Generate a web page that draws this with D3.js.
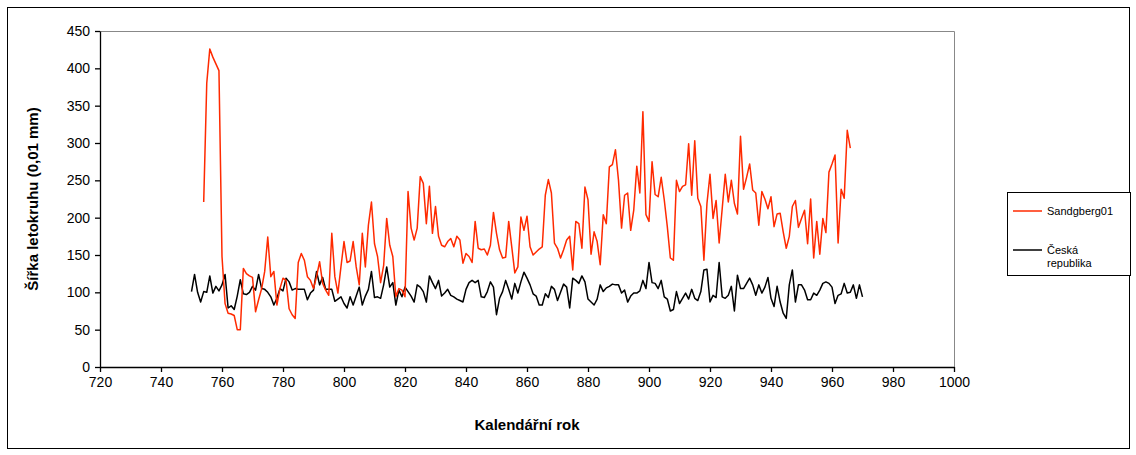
<!DOCTYPE html>
<html>
<head>
<meta charset="utf-8">
<script src="https://cdn.jsdelivr.net/npm/d3@7"></script>
<style>
  html, body { margin: 0; padding: 0; background: #fff; }
  svg { display: block; font-family: "Liberation Sans", Arial, sans-serif; }
</style>
</head>
<body>
<svg id="chart" width="1136" height="455"></svg>
<script>
// Tree-ring width series (0.01 mm), one value per calendar year.
const sandgbergStart = 754;
const sandgbergValues = [
  221, 380, 426, 415, 406, 397, 148, 85, 72, 71,
  69, 50, 50, 132, 125, 122, 120, 74, 90, 105,
  128, 174, 121, 128, 83, 105, 119, 116, 78, 70,
  65, 140, 152, 143, 121, 116, 105, 121, 141, 112,
  103, 96, 179, 121, 99, 134, 168, 140, 142, 168,
  134, 110, 179, 134, 190, 221, 165, 148, 113, 136,
  199, 163, 148, 94, 105, 103, 94, 235, 186, 170,
  186, 255, 246, 192, 242, 179, 215, 175, 163, 161,
  168, 172, 161, 175, 170, 139, 152, 148, 140, 195,
  159, 157, 158, 150, 163, 207, 179, 157, 146, 147,
  195, 161, 126, 134, 201, 183, 202, 161, 150, 154,
  158, 161, 230, 251, 233, 166, 159, 146, 157, 170,
  175, 130, 195, 192, 159, 241, 224, 151, 181, 168,
  137, 204, 192, 268, 271, 291, 250, 186, 230, 233,
  183, 210, 269, 233, 342, 204, 195, 275, 231, 228,
  254, 224, 188, 146, 143, 250, 235, 242, 244, 299,
  230, 303, 226, 215, 143, 219, 258, 199, 223, 166,
  212, 258, 221, 250, 219, 205, 309, 238, 254, 272,
  237, 233, 190, 235, 225, 212, 228, 188, 205, 206,
  181, 159, 175, 215, 223, 187, 199, 210, 165, 225,
  146, 195, 151, 199, 180, 261, 272, 284, 166, 238,
  226, 317, 293
];

const ceskaStart = 750;
const ceskaValues = [
  101, 124, 100, 87, 101, 100, 122, 99, 108, 102,
  110, 124, 79, 82, 77, 95, 117, 98, 97, 100,
  108, 103, 124, 105, 104, 100, 94, 83, 92, 105,
  102, 119, 114, 103, 105, 104, 104, 104, 90, 99,
  103, 128, 110, 120, 104, 104, 104, 88, 91, 94,
  85, 79, 94, 83, 95, 107, 83, 95, 104, 128,
  93, 94, 92, 110, 134, 107, 113, 83, 103, 94,
  107, 101, 95, 87, 110, 107, 101, 87, 122, 113,
  105, 116, 95, 99, 104, 96, 94, 91, 89, 87,
  104, 113, 116, 113, 116, 94, 93, 101, 114, 107,
  70, 92, 101, 116, 104, 91, 112, 99, 114, 127,
  119, 110, 98, 95, 83, 83, 98, 93, 108, 104,
  89, 100, 111, 107, 79, 119, 116, 112, 122, 114,
  91, 87, 83, 91, 110, 101, 106, 108, 111, 110,
  110, 99, 103, 87, 95, 99, 99, 102, 116, 105,
  140, 113, 112, 105, 116, 94, 91, 75, 77, 101,
  85, 92, 99, 91, 104, 92, 89, 101, 130, 131,
  87, 96, 93, 140, 94, 92, 96, 108, 75, 123,
  105, 105, 112, 119, 110, 96, 110, 99, 107, 120,
  92, 81, 108, 87, 72, 65, 110, 130, 87, 110,
  110, 103, 90, 90, 99, 96, 103, 112, 114, 112,
  107, 85, 96, 98, 112, 99, 100, 110, 92, 110,
  94
];

const yTicks = [0, 50, 100, 150, 200, 250, 300, 350, 400, 450];
const xTicks = [720, 740, 760, 780, 800, 820, 840, 860, 880, 900, 920, 940, 960, 980, 1000];

const seriesNames = ["Sandgberg01", "Česká republika"];
const legendLines = [["Sandgberg01"], ["Česká", "republika"]];
const seriesColors = ["#ff2a00", "#000000"];

const xTitle = "Kalendářní rok";
const yTitle = "Šířka letokruhu (0,01 mm)";

const toPoints = (start, values) => values.map((v, i) => ({ year: start + i, value: v }));
const series = [
  { name: seriesNames[0], color: seriesColors[0], points: toPoints(sandgbergStart, sandgbergValues) },
  { name: seriesNames[1], color: seriesColors[1], points: toPoints(ceskaStart, ceskaValues) }
];

const svg = d3.select("#chart");

// outer chart frame
svg.append("rect")
  .attr("x", 7.5).attr("y", 7.5)
  .attr("width", 1122).attr("height", 441)
  .attr("fill", "#fff").attr("stroke", "#000").attr("stroke-width", 1);

const plot = { left: 100, right: 954, top: 31, bottom: 367 };

const x = d3.scaleLinear().domain([720, 1000]).range([plot.left, plot.right]);
const y = d3.scaleLinear().domain([0, 450]).range([plot.bottom, plot.top]);

// plot area border (top/right in grey)
svg.append("path")
  .attr("d", `M${plot.left},${plot.top + 0.5}H${plot.right + 0.5}V${plot.bottom}`)
  .attr("fill", "none").attr("stroke", "#888").attr("stroke-width", 1);

// series lines
const line = d3.line().x(d => x(d.year)).y(d => y(d.value));
svg.append("g").selectAll("path")
  .data(series.slice().reverse())
  .join("path")
  .attr("d", d => line(d.points))
  .attr("fill", "none")
  .attr("stroke", d => d.color)
  .attr("stroke-width", 1.5)
  .attr("stroke-linejoin", "round");

// axes
const xAxis = d3.axisBottom(x).tickValues(xTicks).tickFormat(d3.format("d"))
  .tickSize(5).tickSizeOuter(0).tickPadding(5);
const yAxis = d3.axisLeft(y).tickValues(yTicks).tickFormat(d3.format("d"))
  .tickSize(5).tickSizeOuter(0).tickPadding(5);

const gx = svg.append("g").attr("transform", `translate(0,${plot.bottom})`).call(xAxis);
const gy = svg.append("g").attr("transform", `translate(${plot.left},0)`).call(yAxis);
[gx, gy].forEach(g => {
  g.select(".domain").attr("stroke", "#000").attr("stroke-width", 1.3);
  g.selectAll(".tick line").attr("stroke", "#000").attr("stroke-width", 1.3);
  g.selectAll(".tick text").attr("fill", "#000").style("font-size", "14px")
    .style("font-family", "'Liberation Sans', Arial, sans-serif");
});

// axis titles
svg.append("text")
  .attr("x", (plot.left + plot.right) / 2).attr("y", 430)
  .attr("text-anchor", "middle")
  .style("font-size", "15px").style("font-weight", "bold")
  .text(xTitle);

svg.append("text")
  .attr("transform", `translate(38,${(plot.top + plot.bottom) / 2}) rotate(-90)`)
  .attr("text-anchor", "middle")
  .style("font-size", "15px").style("font-weight", "bold")
  .text(yTitle);

// legend
const legend = svg.append("g");
legend.append("rect")
  .attr("x", 1007.5).attr("y", 192.5)
  .attr("width", 123).attr("height", 83)
  .attr("fill", "#fff").attr("stroke", "#000").attr("stroke-width", 1);

const legendRows = [211, 250];
series.forEach((s, i) => {
  const ly = legendRows[i];
  legend.append("line")
    .attr("x1", 1013).attr("x2", 1042)
    .attr("y1", ly).attr("y2", ly)
    .attr("stroke", s.color).attr("stroke-width", 1.5);
  const t = legend.append("text")
    .attr("x", 1047).attr("y", ly + 4)
    .style("font-size", "11px");
  legendLines[i].forEach((ln, j) => {
    t.append("tspan").attr("x", 1047).attr("dy", j === 0 ? 0 : 13).text(ln);
  });
});
</script>
</body>
</html>
